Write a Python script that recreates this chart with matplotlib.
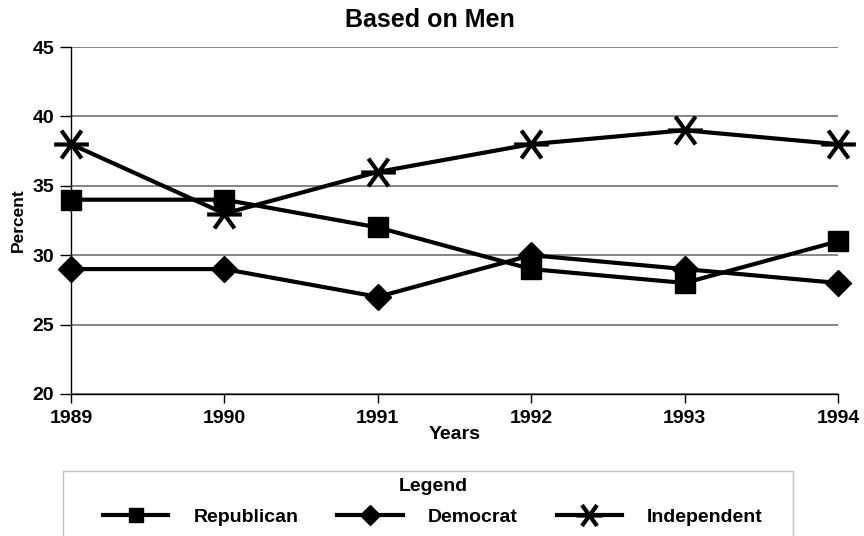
import matplotlib
matplotlib.use('Agg')
import matplotlib.pyplot as plt
from matplotlib.path import Path
from matplotlib.patches import Rectangle

plt.rcParams['font.family'] = ['Liberation Sans', 'DejaVu Sans']
plt.rcParams['font.weight'] = 'bold'

years = [1989, 1990, 1991, 1992, 1993, 1994]
republican = [34, 34, 32, 29, 28, 31]
democrat = [29, 29, 27, 30, 29, 28]
independent = [38, 33, 36, 38, 39, 38]
y_ticks = [20, 25, 30, 35, 40, 45]

# x-with-bar marker like the old spreadsheet one
star = Path([(-1, 0), (1, 0), (-0.58, -0.8), (0.58, 0.8), (-0.58, 0.8), (0.58, -0.8)],
            [Path.MOVETO, Path.LINETO, Path.MOVETO, Path.LINETO, Path.MOVETO, Path.LINETO])

fig = plt.figure(figsize=(8.64, 5.36), dpi=100)
ax = fig.add_axes([71 / 864, 1 - 394 / 536, (838 - 71) / 864, (394 - 47) / 536])

ax.plot(years, republican, color='black', lw=3, marker='s', ms=14, label='Republican', clip_on=False)
ax.plot(years, democrat, color='black', lw=3, marker='D', ms=13.5, label='Democrat', clip_on=False)
ax.plot(years, independent, color='black', lw=3, marker=star, ms=25, mew=3,
        label='Independent', clip_on=False)

ax.set_xlim(1989, 1994)
ax.set_ylim(20, 45)
ax.set_xticks(years)
ax.set_yticks(y_ticks)
ax.tick_params(axis='both', labelsize=14, width=1, color='black')
ax.tick_params(axis='y', length=8, pad=4)
ax.tick_params(axis='x', length=6.5, pad=5)
ax.grid(axis='y', color='#707070', lw=1.2)
ax.set_axisbelow(True)
for s in ['top', 'right']:
    ax.spines[s].set_visible(False)
ax.spines['left'].set_linewidth(1)
ax.spines['bottom'].set_linewidth(1)

fig.text(430 / 864, 1 - 20 / 536, 'Based on Men', fontsize=18, fontweight='bold',
         ha='center', va='center')
ax.set_xlabel('Years', fontsize=14, fontweight='bold', labelpad=-1)
ax.set_ylabel('Percent', fontsize=12.5, fontweight='bold', labelpad=5)

# legend box runs off the bottom of the page
fig.patches.append(Rectangle((63 / 864, 1 - 560 / 536), (793 - 63) / 864, 89 / 536,
                             transform=fig.transFigure, fill=False, edgecolor='#c0c0c0', lw=1))
leg = fig.legend(loc='upper center', bbox_to_anchor=(433 / 864, 1 - 474 / 536),
                 ncol=3, title='Legend', fontsize=14, title_fontsize=14,
                 handlelength=3.35, handletextpad=1.3, columnspacing=2.0, markerscale=0.75,
                 borderpad=0.2, borderaxespad=0, labelspacing=0.7, frameon=False)
leg.get_title().set_fontweight('bold')

fig.savefig('out.png', dpi=100)
